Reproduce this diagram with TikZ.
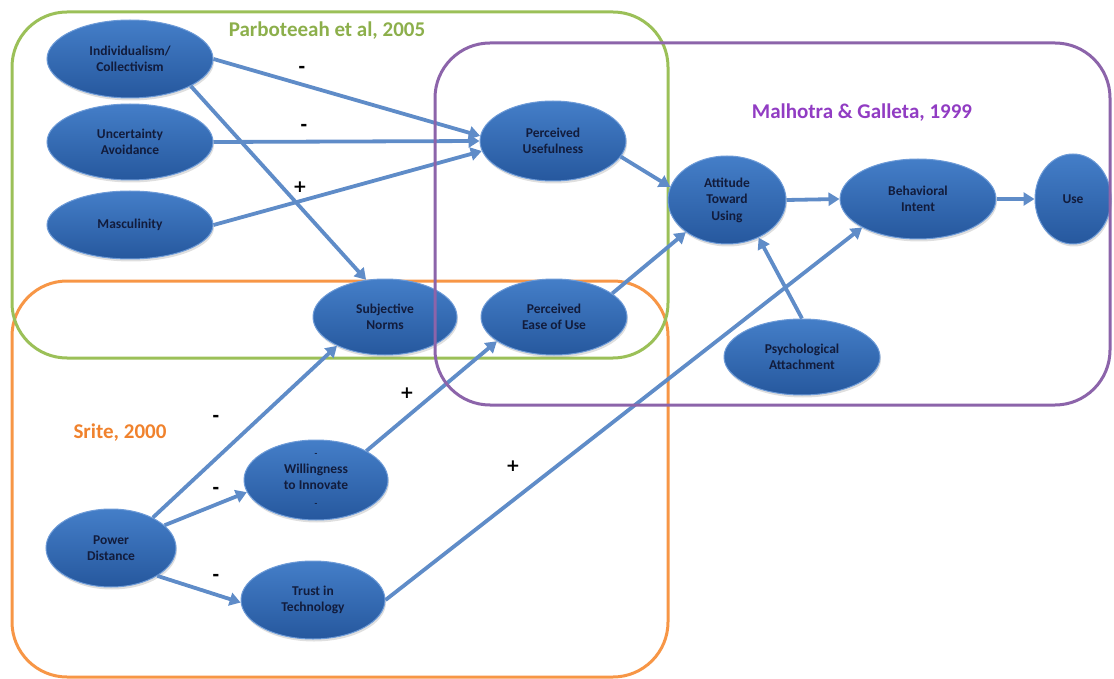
\documentclass[tikz,border=0pt]{standalone}
\usepackage{fontspec}
\setmainfont{Carlito}
\newfontfamily\signfont{DejaVu Sans}
\usetikzlibrary{arrows.meta,shadows,shapes.geometric}

\definecolor{nodetop}{RGB}{68,126,200}
\definecolor{nodebottom}{RGB}{38,88,158}
\definecolor{nodeedge}{RGB}{110,155,215}
\definecolor{arrowblue}{RGB}{95,140,200}
\definecolor{boxgreen}{RGB}{155,192,88}
\definecolor{boxpurple}{RGB}{140,100,170}
\definecolor{boxorange}{RGB}{247,150,70}
\definecolor{labelgreen}{RGB}{140,175,75}
\definecolor{labelpurple}{RGB}{145,60,195}
\definecolor{labelorange}{RGB}{240,130,45}
\definecolor{textnavy}{RGB}{18,28,60}

\tikzset{
  construct/.style={ellipse, draw=nodeedge, line width=1pt,
    top color=nodetop, bottom color=nodebottom, inner sep=0pt,
    align=center, text=textnavy,
    font=\fontsize{13.5}{16.5}\bfseries\selectfont,
    drop shadow={opacity=0.25, shadow xshift=1pt, shadow yshift=-2.5pt}},
  link/.style={draw=arrowblue, line width=3.8pt,
    -{Triangle[width=13pt,length=11pt]}},
  study/.style={line width=3pt, rounded corners=55pt},
  sign/.style={font=\signfont\fontsize{17}{17}\bfseries\selectfont, text=black},
  studylabel/.style={font=\fontsize{21}{24}\bfseries\selectfont}
}

\begin{document}
\begin{tikzpicture}[x=1pt,y=-1pt]
\useasboundingbox (0,0) rectangle (1114,679);

% study boundaries (behind the constructs)
\draw[study, boxorange] (12,281) rectangle (668,677);
\draw[study, boxgreen] (12,12) rectangle (668,358);

% constructs
\node[construct, minimum width=166pt, minimum height=78pt] (ic) at (130,59) {Individualism/\\Collectivism};
\node[construct, minimum width=166pt, minimum height=76pt] (ua) at (130,142) {Uncertainty\\Avoidance};
\node[construct, minimum width=166pt, minimum height=68pt] (masc) at (130,225) {Masculinity};
\node[construct, minimum width=146pt, minimum height=80pt] (pu) at (553,141) {Perceived\\Usefulness};
\node[construct, minimum width=118pt, minimum height=88pt] (atu) at (727,200) {Attitude\\Toward\\Using};
\node[construct, minimum width=156pt, minimum height=80pt] (bi) at (918,199) {Behavioral\\Intent};
\node[construct, minimum width=76pt, minimum height=90pt] (use) at (1073,199) {Use};
\node[construct, minimum width=144pt, minimum height=76pt] (sn) at (385,317) {Subjective\\Norms};
\node[construct, minimum width=146pt, minimum height=76pt] (peou) at (554,317) {Perceived\\Ease of Use};
\node[construct, minimum width=156pt, minimum height=76pt] (psy) at (802,357) {Psychological\\Attachment};
\node[construct, minimum width=144pt, minimum height=80pt] (wti) at (316,480) {\fontsize{9}{8}\selectfont -\\Willingness\\to Innovate\\\fontsize{9}{8}\selectfont -};
\node[construct, minimum width=130pt, minimum height=78pt] (pd) at (111,548) {Power\\Distance};
\node[construct, minimum width=144pt, minimum height=78pt] (trust) at (313,600) {Trust in\\Technology};

% hypothesised paths
\draw[link] (ic.east) -- (pu.176);
\draw[link] (ic.-24) -- (sn.117);
\draw[link] (ua.east) -- (pu.west);
\draw[link] (masc.east) -- (pu.188);
\draw[link] (pu.-13) -- (atu.167);
\draw[link] (peou.22) -- (atu.218);
\draw[link] (atu.east) -- (bi.west);
\draw[link] (bi.east) -- (use.west);
\draw[link] (psy.north) -- (atu.-50);
\draw[link] (trust.east) -- (bi.207);
\draw[link] (pd.36) -- (sn.211);
\draw[link] (pd.23) -- (wti.190);
\draw[link] (pd.-31) -- (trust.182);
\draw[link] (wti.30) -- (peou.203);

% Malhotra & Galleta boundary
\draw[study, boxpurple] (435,43) rectangle (1110,405);

% study labels
\node[studylabel, text=labelgreen] (lblp) at (327,31) {Parboteeah et al, 2005};
\node[studylabel, text=labelpurple] (lblm) at (862,113) {Malhotra \& Galleta, 1999};
\node[studylabel, text=labelorange] (lbls) at (120,433) {Srite, 2000};

% path signs
\node[sign] (s1) at (302,69) {-};
\node[sign] (s2) at (304,127) {-};
\node[sign] (s3) at (300,187) {+};
\node[sign] (s4) at (216,418) {-};
\node[sign] (s5) at (216,490) {-};
\node[sign] (s6) at (216,577) {-};
\node[sign] (s7) at (407,393) {+};
\node[sign] (s8) at (513,466) {+};
\end{tikzpicture}
\end{document}
